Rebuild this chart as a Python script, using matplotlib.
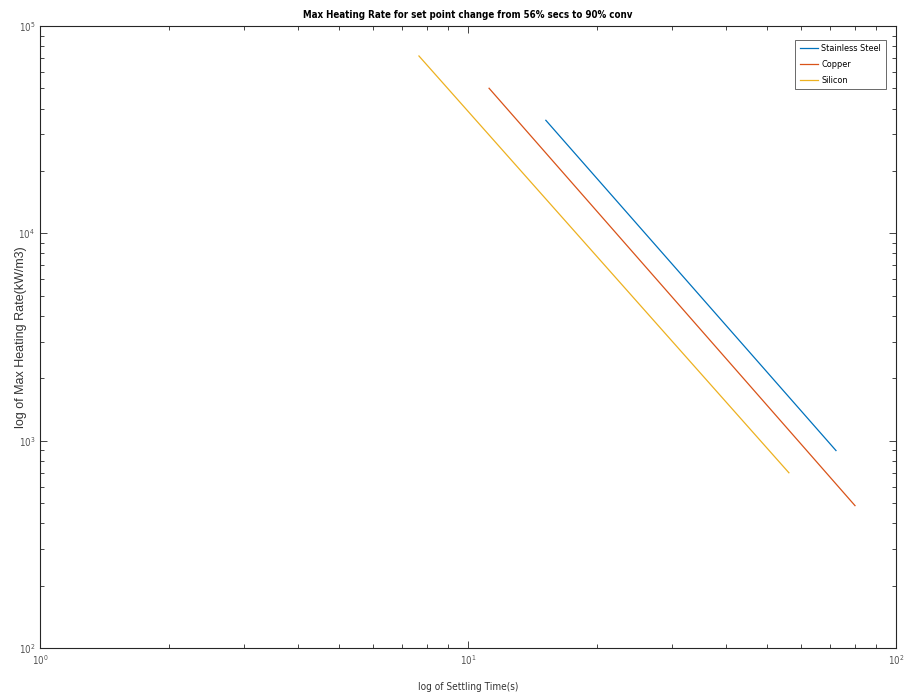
import matplotlib
matplotlib.use("Agg")
import matplotlib.pyplot as plt
from matplotlib.ticker import LogLocator, LogFormatterMathtext, NullFormatter

plt.rcParams['font.family'] = ['Liberation Sans Narrow', 'DejaVu Sans']
plt.rcParams['font.stretch'] = 'condensed'

# settling time (s) vs max heating rate (kW/m3), endpoints of each run
steel_t = [15.2, 72.4]
steel_q = [35100, 896]
copper_t = [11.2, 80.2]
copper_q = [50100, 486]
silicon_t = [7.68, 56.2]
silicon_q = [71700, 700]

names = ['Stainless Steel', 'Copper', 'Silicon']
colors = ['#0072BD', '#D95319', '#EDB120']

fig = plt.figure(figsize=(9.13, 6.96), dpi=100)
ax = fig.add_axes([0.0438, 0.069, 0.9376, 0.8936])

ax.loglog(steel_t, steel_q, color=colors[0], lw=0.9, label=names[0])
ax.loglog(copper_t, copper_q, color=colors[1], lw=0.9, label=names[1])
ax.loglog(silicon_t, silicon_q, color=colors[2], lw=0.9, label=names[2])

ax.set_xlim(1, 100)
ax.set_ylim(100, 1e5)

for a in (ax.xaxis, ax.yaxis):
    a.set_major_locator(LogLocator(base=10))
    a.set_major_formatter(LogFormatterMathtext())
    a.set_minor_locator(LogLocator(base=10, subs=range(2, 10)))
    a.set_minor_formatter(NullFormatter())

ax.tick_params(which='both', direction='in', top=True, right=True,
               colors='#262626', labelcolor='#555555', labelsize=7, width=0.6)
ax.tick_params(which='major', length=5)
ax.tick_params(which='minor', length=3)
for s in ax.spines.values():
    s.set_color('#262626')
    s.set_linewidth(0.8)

ax.set_title('Max Heating Rate for set point change from 56% secs to 90% conv',
             fontsize=7, fontweight='bold', pad=6)
ax.set_xlabel('log of Settling Time(s)', fontsize=7.2, color='#333333', labelpad=11)
ax.set_ylabel('log of Max Heating Rate(kW/m3)', fontsize=9, color='#333333',
              family=['Liberation Sans', 'DejaVu Sans'], stretch='normal', labelpad=-6)

leg = ax.legend(loc='upper right', fontsize=6.5, frameon=True, fancybox=False,
                edgecolor='#262626', handlelength=2.0, borderpad=0.5,
                labelspacing=0.75, handletextpad=0.4, bbox_to_anchor=(0.993, 0.985))
leg.get_frame().set_linewidth(0.6)

fig.savefig('out.png', dpi=100)
